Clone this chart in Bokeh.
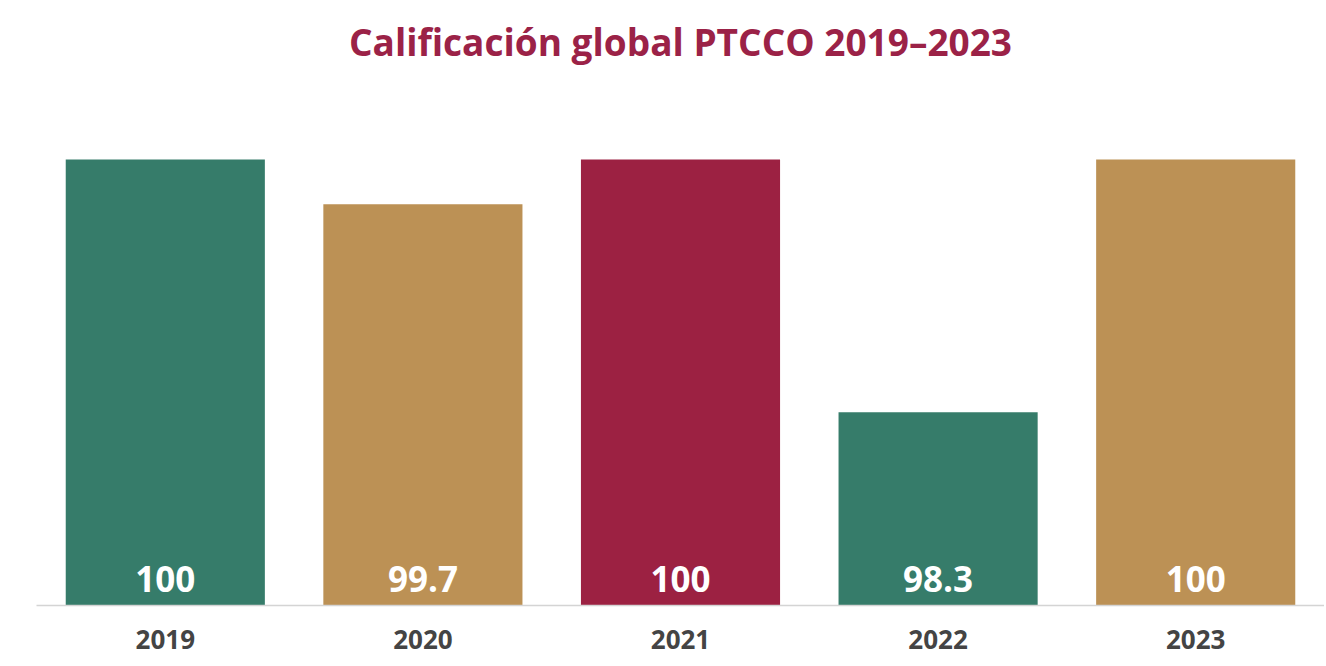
from bokeh.plotting import figure
from bokeh.models import ColumnDataSource, Range1d
from bokeh.core.properties import value
from bokeh.embed import file_html
from bokeh.resources import INLINE

years = ["2019", "2020", "2021", "2022", "2023"]
scores = [100, 99.7, 100, 98.3, 100]
score_labels = ["100", "99.7", "100", "98.3", "100"]
bar_colors = ["#367c6a", "#bc9155", "#9c2142", "#367c6a", "#bc9155"]
chart_title = "Calificación global PTCCO 2019–2023"

y_base = 97.0
y_top = 101.07          # frame reaches the top of the figure
title_y = 100.795       # vertical position of the title inside the frame

src = ColumnDataSource(dict(
    year=years, score=scores, label=score_labels, color=bar_colors,
    base=[y_base] * len(years),
))

p = figure(
    x_range=years, y_range=Range1d(y_base, y_top),
    width=1324, height=664,
    output_backend="svg", toolbar_location=None,
    min_border_left=36, min_border_right=0, min_border_top=0, min_border_bottom=59,
)

p.vbar(x="year", top="score", bottom="base", width=0.773, color="color",
       line_color=None, source=src)

p.text(x="year", y="base", text="label", source=src,
       text_align="center", text_baseline="bottom", y_offset=-14,
       text_color="white", text_font=value("Open Sans"),
       text_font_style="bold", text_font_size="35px")

p.text(x=[years[len(years) // 2]], y=[title_y], text=[chart_title],
       text_align="center", text_baseline="middle",
       text_color="#9b2247", text_font=value("Open Sans"),
       text_font_style="bold", text_font_size="37px")

p.outline_line_color = None
p.background_fill_color = "white"
p.border_fill_color = "white"
p.xgrid.grid_line_color = None
p.ygrid.grid_line_color = None
p.yaxis.visible = False

xa = p.xaxis[0]
xa.axis_line_color = "#d4d4d4"
xa.axis_line_width = 1.5
xa.major_tick_line_color = None
xa.minor_tick_line_color = None
xa.major_label_text_font = "Open Sans"
xa.major_label_text_font_style = "bold"
xa.major_label_text_font_size = "26px"
xa.major_label_text_color = "#444444"
xa.major_label_standoff = 18
p.x_range.range_padding = 0

open("out.html", "w").write(file_html(p, INLINE))
